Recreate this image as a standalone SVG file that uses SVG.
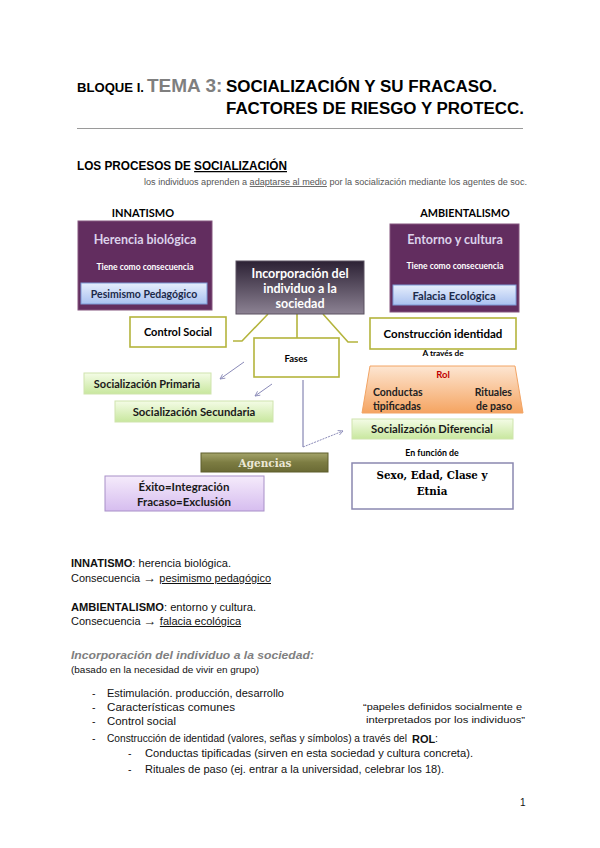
<svg xmlns="http://www.w3.org/2000/svg" width="600" height="848" viewBox="0 0 600 848">
<style>
.sans{font-family:"Liberation Sans",Arial,sans-serif}
.lab{font-family:Lato,"Open Sans",sans-serif;font-weight:bold}
.slab{font-family:"DejaVu Serif","Liberation Serif",serif;font-weight:bold}
.olive{fill:#fff;stroke:#b4b43c;stroke-width:1.6}
.conn{fill:none;stroke:#b4b43c;stroke-width:1.6}
.arr{stroke:#8a8ab8;stroke-width:1;fill:none}
.green{fill:url(#gGreen);stroke:#cfe4ad;stroke-width:1}
.body{font-family:"Liberation Sans",Arial,sans-serif;font-size:10px;fill:#111}
.li{font-family:"Liberation Sans",Arial,sans-serif;font-size:10.5px;fill:#111}
</style>
<defs>
<linearGradient id="gGreen" x1="0" y1="0" x2="0" y2="1"><stop offset="0" stop-color="#f4fce6"/><stop offset="1" stop-color="#c8e79e"/></linearGradient>
<linearGradient id="gBlue" x1="0" y1="0" x2="0" y2="1"><stop offset="0" stop-color="#e6eefc"/><stop offset="1" stop-color="#a9c1f0"/></linearGradient>
<linearGradient id="gCenter" x1="0" y1="0" x2="0" y2="1"><stop offset="0" stop-color="#2c2134"/><stop offset="1" stop-color="#8c8293"/></linearGradient>
<linearGradient id="gOrange" x1="0" y1="0" x2="0" y2="1"><stop offset="0" stop-color="#fde6d2"/><stop offset="1" stop-color="#f5a461"/></linearGradient>
<linearGradient id="gOlive" x1="0" y1="0" x2="0" y2="1"><stop offset="0" stop-color="#a4a46a"/><stop offset="0.5" stop-color="#7c7c42"/><stop offset="1" stop-color="#6a6a34"/></linearGradient>
<linearGradient id="gLav" x1="0" y1="0" x2="0" y2="1"><stop offset="0" stop-color="#f5ebfb"/><stop offset="1" stop-color="#d6bdef"/></linearGradient>
<marker id="ah" viewBox="0 0 10 10" refX="9" refY="5" markerWidth="6" markerHeight="6" orient="auto"><path d="M1,1 L9,5 L1,9" fill="none" stroke="#8a8ab8" stroke-width="1.4"/></marker>
</defs>
<rect width="600" height="848" fill="#fff"/>

<g id="title">
<text class="sans" x="77" y="92" font-size="13.5" font-weight="bold" textLength="67" lengthAdjust="spacingAndGlyphs">BLOQUE I.</text>
<text class="sans" x="147" y="92" font-size="19" font-weight="bold" fill="#7f7f7f">TEMA 3:</text>
<text class="sans" x="226" y="92" font-size="16" font-weight="bold" textLength="271" lengthAdjust="spacingAndGlyphs">SOCIALIZACIÓN Y SU FRACASO.</text>
<text class="sans" x="226" y="114" font-size="16" font-weight="bold" textLength="298" lengthAdjust="spacingAndGlyphs">FACTORES DE RIESGO Y PROTECC.</text>
<line x1="77" y1="128.5" x2="523" y2="128.5" stroke="#9a9a9a" stroke-width="1"/>
</g>

<g id="heading">
<text class="sans" x="77" y="170" font-size="12.5" font-weight="bold" textLength="210" lengthAdjust="spacingAndGlyphs">LOS PROCESOS DE <tspan text-decoration="underline">SOCIALIZACIÓN</tspan></text>
<text class="sans" x="144" y="185" font-size="8.5" fill="#555" textLength="383" lengthAdjust="spacingAndGlyphs">los individuos aprenden a <tspan text-decoration="underline">adaptarse al medio</tspan> por la socialización mediante los agentes de soc.</text>
</g>

<g id="connectors">
<polyline class="conn" points="268,314 242,341 233,341"/>
<line class="conn" x1="297" y1="314" x2="297" y2="338"/>
<polyline class="conn" points="323,314 348,342 358,342"/>
<line class="arr" x1="244" y1="362" x2="220" y2="379" marker-end="url(#ah)"/>
<line class="arr" x1="272" y1="384" x2="255" y2="396" marker-end="url(#ah)"/>
<line x1="303" y1="380" x2="303" y2="447" stroke="#6e6ea4" stroke-width="1"/>
<line class="arr" x1="303" y1="447" x2="343" y2="431" stroke-dasharray="2,1" marker-end="url(#ah)"/>
</g>

<g id="innatismo">
<text class="lab" x="143" y="217" font-size="11" text-anchor="middle">INNATISMO</text>
<rect x="78" y="221" width="134" height="89" fill="#622d5f" stroke="#84567f" stroke-width="1"/>
<text class="lab" x="145" y="244" font-size="12.5" fill="#dcd2ea" text-anchor="middle">Herencia biológica</text>
<text class="lab" x="145" y="270" font-size="8.5" fill="#fff" text-anchor="middle">Tiene como consecuencia</text>
<rect x="81" y="283" width="126" height="21" fill="url(#gBlue)" stroke="#7d9ad6" stroke-width="1"/>
<text class="lab" x="144" y="297.5" font-size="10.5" fill="#1c2a4a" text-anchor="middle">Pesimismo Pedagógico</text>
</g>

<g id="ambientalismo">
<text class="lab" x="465" y="217" font-size="10.8" text-anchor="middle">AMBIENTALISMO</text>
<rect x="390" y="224" width="129" height="88" fill="#622d5f" stroke="#84567f" stroke-width="1"/>
<text class="lab" x="455" y="244" font-size="12.5" fill="#dcd2ea" text-anchor="middle">Entorno y cultura</text>
<text class="lab" x="455" y="269" font-size="8.5" fill="#fff" text-anchor="middle">Tiene como consecuencia</text>
<rect x="393" y="285" width="123" height="20" fill="url(#gBlue)" stroke="#7d9ad6" stroke-width="1"/>
<text class="lab" x="454" y="299.5" font-size="11.2" fill="#1c2a4a" text-anchor="middle">Falacia Ecológica</text>
</g>

<g id="incorporacion">
<rect x="236" y="261" width="128" height="53" fill="url(#gCenter)" stroke="#5a5060" stroke-width="1"/>
<text class="lab" x="300" y="278" font-size="12.5" fill="#fff" text-anchor="middle">Incorporación del</text>
<text class="lab" x="300" y="293" font-size="12.5" fill="#fff" text-anchor="middle">individuo a la</text>
<text class="lab" x="300" y="308" font-size="12.5" fill="#fff" text-anchor="middle">sociedad</text>
</g>

<g id="control-social">
<rect class="olive" x="130" y="317" width="96" height="30"/>
<text class="lab" x="178" y="336" font-size="11" text-anchor="middle">Control Social</text>
</g>

<g id="fases">
<rect class="olive" x="254" y="338" width="85" height="39"/>
<text class="lab" x="296" y="362" font-size="9.5" text-anchor="middle">Fases</text>
</g>

<g id="construccion">
<rect class="olive" x="370" y="318" width="146" height="31"/>
<text class="lab" x="443" y="338" font-size="11.5" text-anchor="middle">Construcción identidad</text>
<text class="lab" x="443" y="356" font-size="8.3" text-anchor="middle">A través de</text>
</g>

<g id="rol">
<polygon points="370,366 515,366 523,413 362,413" fill="url(#gOrange)" stroke="#f2a464" stroke-width="1"/>
<text class="lab" x="443" y="378" font-size="9.5" fill="#c00000" text-anchor="middle">Rol</text>
<text class="lab" x="373" y="396" font-size="10.5" fill="#222">Conductas</text>
<text class="lab" x="373" y="410" font-size="10.5" fill="#222">tipificadas</text>
<text class="lab" x="512" y="396" font-size="10.5" fill="#222" text-anchor="end">Rituales</text>
<text class="lab" x="512" y="410" font-size="10.5" fill="#222" text-anchor="end">de paso</text>
</g>

<g id="soc-diferencial">
<rect class="green" x="352" y="419" width="161" height="20"/>
<text class="lab" x="432" y="433" font-size="11.3" fill="#1a1a1a" text-anchor="middle">Socialización Diferencial</text>
<text class="lab" x="432" y="456" font-size="8.8" text-anchor="middle">En función de</text>
</g>

<g id="sexo">
<rect x="352" y="463" width="161" height="46" fill="#fff" stroke="#8a88b0" stroke-width="1.5"/>
<text class="slab" x="432" y="479" font-size="10.3" text-anchor="middle">Sexo, Edad, Clase y</text>
<text class="slab" x="432" y="495" font-size="10.3" text-anchor="middle">Etnia</text>
</g>

<g id="soc-primaria">
<rect class="green" x="84" y="373" width="127" height="21"/>
<text class="lab" x="147" y="387.5" font-size="11" fill="#1a1a1a" text-anchor="middle">Socialización Primaria</text>
</g>

<g id="soc-secundaria">
<rect class="green" x="115" y="401" width="158" height="21"/>
<text class="lab" x="194" y="415.5" font-size="11.3" fill="#1a1a1a" text-anchor="middle">Socialización Secundaria</text>
</g>

<g id="agencias">
<rect x="201" y="453" width="127" height="19" fill="url(#gOlive)" stroke="#5f5f2c" stroke-width="1"/>
<text class="slab" x="265" y="466.5" font-size="10.5" fill="#ece8d6" text-anchor="middle">Agencias</text>
</g>

<g id="exito">
<rect x="105" y="476" width="159" height="35" fill="url(#gLav)" stroke="#a890c8" stroke-width="1"/>
<text class="lab" x="184" y="491" font-size="11.5" fill="#1a1a1a" text-anchor="middle">Éxito=Integración</text>
<text class="lab" x="184" y="505.5" font-size="11.5" fill="#1a1a1a" text-anchor="middle">Fracaso=Exclusión</text>
</g>

<g id="notes">
<text class="body" x="71" y="567" textLength="160" lengthAdjust="spacingAndGlyphs"><tspan font-weight="bold">INNATISMO</tspan>: herencia biológica.</text>
<text class="body" x="71" y="582" textLength="200" lengthAdjust="spacingAndGlyphs">Consecuencia <tspan font-size="12">→</tspan> <tspan text-decoration="underline">pesimismo pedagógico</tspan></text>
<text class="body" x="71" y="611" textLength="185" lengthAdjust="spacingAndGlyphs"><tspan font-weight="bold">AMBIENTALISMO</tspan>: entorno y cultura.</text>
<text class="body" x="71" y="625" textLength="170" lengthAdjust="spacingAndGlyphs">Consecuencia <tspan font-size="12">→</tspan> <tspan text-decoration="underline">falacia ecológica</tspan></text>
<text class="body" x="71" y="659" style="font-size:11.5px;fill:#808080;font-weight:bold;font-style:italic" textLength="243" lengthAdjust="spacingAndGlyphs">Incorporación del individuo a la sociedad:</text>
<text class="body" x="71" y="673" style="font-size:9px" textLength="188" lengthAdjust="spacingAndGlyphs">(basado en la necesidad de vivir en grupo)</text>
</g>

<g id="list">
<text class="li" x="92" y="697">-</text>
<text class="li" x="107" y="697" textLength="177" lengthAdjust="spacingAndGlyphs">Estimulación. producción, desarrollo</text>
<text class="li" x="92" y="711">-</text>
<text class="li" x="107" y="711" textLength="128" lengthAdjust="spacingAndGlyphs">Características comunes</text>
<text class="li" x="92" y="725">-</text>
<text class="li" x="107" y="725" textLength="69" lengthAdjust="spacingAndGlyphs">Control social</text>
<text class="li" x="92" y="742">-</text>
<text class="li" x="107" y="742" textLength="300" lengthAdjust="spacingAndGlyphs">Construcción de identidad (valores, señas y símbolos) a través del</text>
<text class="li" x="412" y="743" style="font-size:11px;font-weight:bold">ROL</text>
<text class="li" x="435" y="742">:</text>
<text class="body" x="363" y="710" style="font-size:9.5px" textLength="159" lengthAdjust="spacingAndGlyphs">“papeles definidos socialmente e</text>
<text class="body" x="366" y="723" style="font-size:9.5px" textLength="159" lengthAdjust="spacingAndGlyphs">interpretados por los individuos”</text>
<text class="li" x="128" y="757">-</text>
<text class="li" x="145" y="757" textLength="328" lengthAdjust="spacingAndGlyphs">Conductas tipificadas (sirven en esta sociedad y cultura concreta).</text>
<text class="li" x="128" y="773">-</text>
<text class="li" x="145" y="773" textLength="299" lengthAdjust="spacingAndGlyphs">Rituales de paso (ej. entrar a la universidad, celebrar los 18).</text>
<text class="body" x="520" y="806">1</text>
</g>
</svg>
